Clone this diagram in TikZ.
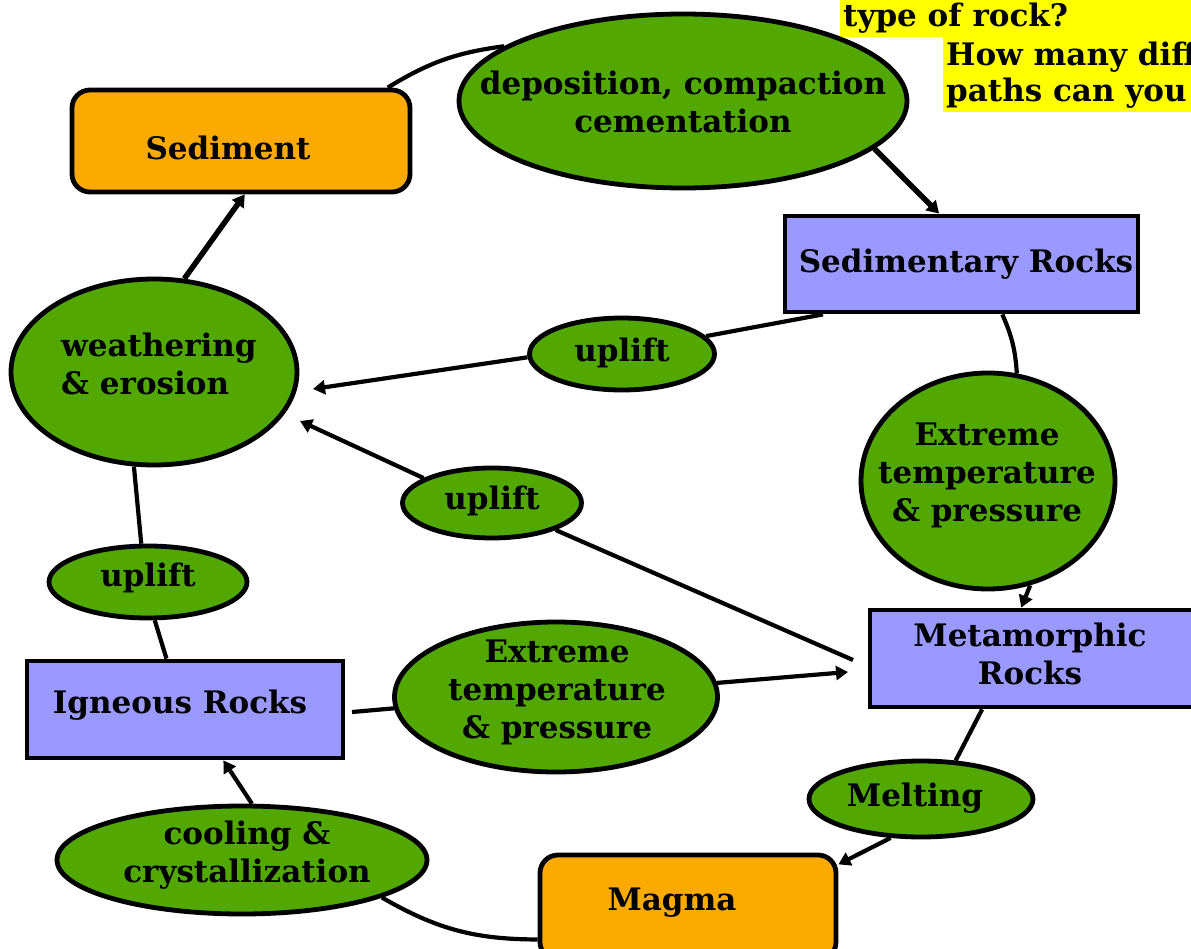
\documentclass[tikz,border=0pt]{standalone}
\usepackage{fontspec}
\setmainfont{DejaVu Serif}
\usetikzlibrary{shapes.geometric,arrows.meta}
\definecolor{leaf}{RGB}{82,168,0}
\definecolor{amber}{RGB}{252,170,0}
\definecolor{lav}{RGB}{153,153,255}
\definecolor{hl}{RGB}{255,255,0}
\begin{document}
\begin{tikzpicture}[x=1pt,y=-1pt,
  txt/.style={font=\fontsize{31}{38}\selectfont\bfseries, align=center, inner sep=0pt},
  proc/.style={ellipse, draw, line width=4.8pt, fill=leaf, inner sep=0pt},
  rockbox/.style={rectangle, draw, line width=4.8pt, fill=lav, inner sep=0pt},
  stuffbox/.style={rectangle, rounded corners=18pt, draw, line width=4.8pt, fill=amber, inner sep=0pt},
  link/.style={line width=4.2pt},
  arr/.style={line width=4.2pt, -{Triangle[length=12pt,width=14pt]}},
  ]
\useasboundingbox (0,0) rectangle (1191,949);
\clip (0,0) rectangle (1191,949);
\fill[white] (0,0) rectangle (1191,949);

% highlighted question
\fill[hl] (840,0) rectangle (1191,37);
\fill[hl] (943,37) rectangle (1191,112);
\node[txt, anchor=base west] (q1) at (843,27) {type of rock?};
\node[txt, anchor=base west] (q2) at (946,66) {How many diff};
\node[txt, anchor=base west] (q3) at (946,102) {paths can you};

% shapes
\node[stuffbox, minimum width=338pt, minimum height=102pt] (sed) at (241,141) {};
\node[proc, minimum width=448pt, minimum height=174pt] (dep) at (683,101) {};
\node[rockbox, minimum width=353pt, minimum height=96pt] (sedr) at (961.5,264) {};
\node[proc, minimum width=286pt, minimum height=186pt] (weath) at (154,372) {};
\node[proc, minimum width=185pt, minimum height=72pt] (up1) at (622,354) {};
\node[proc, minimum width=179pt, minimum height=70pt] (up2) at (492,503) {};
\node[proc, minimum width=198pt, minimum height=72pt] (up3) at (148,582) {};
\node[proc, minimum width=254pt, minimum height=216pt] (ext1) at (988,481) {};
\node[rockbox, minimum width=326pt, minimum height=97pt] (meta) at (1033,658.5) {};
\node[proc, minimum width=323pt, minimum height=150pt] (ext2) at (556,697) {};
\node[rockbox, minimum width=316pt, minimum height=97pt] (ign) at (185,709.5) {};
\node[proc, minimum width=224pt, minimum height=76pt] (melt) at (921,799) {};
\node[stuffbox, minimum width=296pt, minimum height=105pt] (mag) at (688,907.5) {};
\node[proc, minimum width=370pt, minimum height=108pt] (cool) at (242,860) {};

% texts
\node[txt] (sed-t) at (228,148) {Sediment};
\node[txt] (dep-t) at (683,102) {deposition, compaction\\cementation};
\node[txt] (sedr-t) at (966,264) {Sedimentary Rocks};
\node[txt, align=left, anchor=west] (weath-t) at (61,364) {weathering\\\& erosion};
\node[txt] (up1-t) at (622,353) {uplift};
\node[txt] (up2-t) at (492,501) {uplift};
\node[txt] (up3-t) at (148,578) {uplift};
\node[txt] (ext1-t) at (987,475) {Extreme\\temperature\\\& pressure};
\node[txt] (meta-t) at (1030,654) {Metamorphic\\Rocks};
\node[txt] (ext2-t) at (557,692) {Extreme\\temperature\\\& pressure};
\node[txt] (ign-t) at (180,705) {Igneous Rocks};
\node[txt] (melt-t) at (915,798) {Melting};
\node[txt] (cool-t) at (247,855) {cooling \&\\crystallization};
\node[txt] (mag-t) at (672,903) {Magma};

% free ends
\coordinate (w1) at (313,389);
\coordinate (w2) at (300,421);
\coordinate (m1) at (853,660);
\coordinate (m2) at (848,672);
\coordinate (i1) at (352,712);

% connectors
\draw[link] (dep.163) to[bend right=12] (sed.20);
\draw[arr, line width=5.5pt] (dep.-14) -- (sedr.114);
\draw[link] (sedr.200) -- (up1.12);
\draw[arr] (up1.182) -- (w1);
\draw[link] (m1) -- (up2.-23);
\draw[arr] (up2.160) -- (w2);
\draw[link] (sedr.-51) to[bend left=10] (ext1.75);
\draw[arr] (ext1.-68) -- (meta.103);
\draw[link] (meta.225) -- (melt.48);
\draw[arr] (melt.232) -- (mag.16);
\draw[arr] (ext2.5) -- (m2);
\draw[link] (i1) -- (ext2.184);
\draw[link] (weath.258) -- (up3.100);
\draw[link] (up3.-80) -- (ign.110);
\draw[arr] (cool.80) -- (ign.-53);
\draw[link] (cool.-15) to[bend right=15] (mag.192);
\draw[arr, line width=5.5pt] (weath.72) -- (sed.-86);
\end{tikzpicture}
\end{document}
